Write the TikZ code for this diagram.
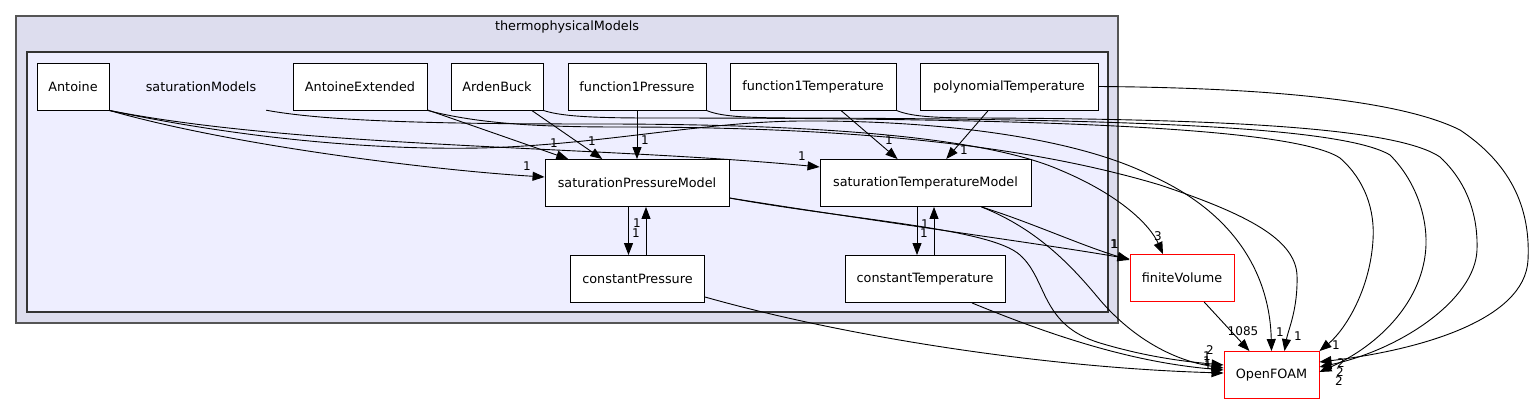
\documentclass[tikz,border=0pt]{standalone}
\usepackage{fontspec}
\setmainfont{DejaVu Sans}
\usetikzlibrary{arrows.meta}
\definecolor{outerdir}{HTML}{DDDDEE}
\definecolor{innerdir}{HTML}{EEEEFF}
\definecolor{dirline}{HTML}{555555}

\begin{document}
\begin{tikzpicture}[x=1pt,y=-1pt,>={Triangle[length=12pt,width=9pt]},
	dir node/.style={rectangle,draw,fill=white,line width=0.9pt,minimum height=47pt,
		inner sep=0pt,font=\fontsize{12.8}{15}\selectfont},
	ext node/.style={dir node,draw=red},
	dep/.style={->,line width=0.9pt},
	num/.style={inner sep=0pt,font=\fontsize{12}{14}\selectfont}]
	
	\useasboundingbox (0,0) rectangle (1534,404);
	
	% clusters
	\filldraw[fill=outerdir,draw=dirline,line width=1.6pt] (16,16) rectangle (1118,323);
	\filldraw[fill=innerdir,draw=black!80,line width=1.1pt] (27,52) rectangle (1108,312);
	\node[font=\fontsize{12.8}{15}\selectfont] (thermo) at (567,27) {thermophysicalModels};
	
	\node[dir node,minimum width=72pt] (antoine) at (73,86.5) {Antoine};
	\node[font=\fontsize{12.8}{15}\selectfont,minimum width=130pt,minimum height=47pt,inner sep=0pt]
		(satmodels) at (201,86.5) {saturationModels};
	\node[dir node,minimum width=134pt] (antext) at (360,86.5) {AntoineExtended};
	\node[dir node,minimum width=92pt] (arden) at (497,86.5) {ArdenBuck};
	\node[dir node,minimum width=138pt] (f1p) at (637,86.5) {function1Pressure};
	\node[dir node,minimum width=166pt] (f1t) at (813,86.5) {function1Temperature};
	\node[dir node,minimum width=178pt] (polyt) at (1009,86.5) {polynomialTemperature};
	\node[dir node,minimum width=184pt] (satp) at (637,183) {saturationPressureModel};
	\node[dir node,minimum width=211pt] (satt) at (925.5,183) {saturationTemperatureModel};
	\node[dir node,minimum width=134pt] (cp) at (637.5,279) {constantPressure};
	\node[dir node,minimum width=160pt] (ct) at (925,279) {constantTemperature};
	\node[ext node,minimum width=104pt] (fv) at (1182,278) {finiteVolume};
	\node[ext node,minimum width=95pt] (of) at (1271.5,375) {OpenFOAM};
	
	\path[dep]
	(antext) edge (satp)
	(arden) edge (satp)
	(f1p) edge (satp)
	(f1t) edge (satt)
	(polyt) edge (satt)
	(fv) edge (of);
	
	\draw[dep] ([xshift=-8.5pt]satp.south) -- ([xshift=-9pt]cp.north);
	\draw[dep] ([xshift=8.5pt]cp.north) -- ([xshift=9pt]satp.south);
	\draw[dep] ([xshift=-8.5pt]satt.south) -- ([xshift=-8pt]ct.north);
	\draw[dep] ([xshift=9pt]ct.north) -- ([xshift=8.5pt]satt.south);
	
	% Antoine
	\draw[dep] (antoine.south east) .. controls (230,145) and (430,170) .. ([yshift=6pt]satp.west);
	\draw[dep] (antoine.south east) .. controls (300,148) and (600,146) .. ([yshift=16pt]satt.west);
	\draw[dep] (antoine.south east) .. controls (250,140) and (380,150) .. (480,148)
		.. controls (600,145) and (700,122) .. (800,121)
		.. controls (950,120) and (1080,140) .. (1150,175)
		.. controls (1240,215) and (1270,280) .. (of.north);
	\draw[dep] (satmodels.south east) .. controls (330,122) and (450,124) .. (600,124)
		.. controls (800,124) and (980,135) .. (1060,170)
		.. controls (1120,195) and (1150,225) .. ([xshift=-19pt]fv.north);
	\draw[dep] (antext.south east) .. controls (480,124) and (540,127) .. (620,127)
		.. controls (820,127) and (1010,140) .. (1160,185)
		.. controls (1250,215) and (1295,240) .. (1297,275)
		.. controls (1298,310) and (1288,330) .. ([xshift=13pt]of.north);
	\draw[dep] (arden.south east) .. controls (560,116) and (590,118) .. (650,118)
		.. controls (1000,118) and (1290,125) .. (1340,158)
		.. controls (1365,180) and (1375,210) .. (1373,240)
		.. controls (1370,290) and (1345,330) .. (of.north east);
	\draw[dep] (f1p.south east) .. controls (720,116) and (740,118) .. (800,118)
		.. controls (1100,119) and (1340,125) .. (1390,155)
		.. controls (1415,180) and (1427,215) .. (1426,245)
		.. controls (1424,300) and (1380,345) .. ([yshift=3pt]of.east);
	\draw[dep] (f1t.south east) .. controls (910,116) and (930,118) .. (980,118)
		.. controls (1250,119) and (1400,130) .. (1440,157)
		.. controls (1470,185) and (1478,220) .. (1477,250)
		.. controls (1475,300) and (1400,350) .. ([yshift=8pt]of.east);
	\draw[dep] (polyt.east) .. controls (1300,88) and (1410,105) .. (1460,130)
		.. controls (1520,170) and (1530,220) .. (1528,260)
		.. controls (1525,320) and (1420,350) .. ([yshift=13pt]of.east);
	
	% to finiteVolume and OpenFOAM
	\draw[dep] ([yshift=-15pt]satp.east) .. controls (900,225) and (1050,245) .. ([yshift=19pt]fv.west);
	\draw[dep] ([xshift=56pt]satt.south) .. controls (1030,222) and (1080,245) .. ([yshift=18pt]fv.west);
	\draw[dep] ([yshift=-15pt]satp.east) .. controls (850,220) and (990,228) .. (1020,255)
		.. controls (1048,280) and (1040,325) .. (1100,343)
		.. controls (1150,358) and (1190,362) .. ([yshift=10pt]of.west);
	\draw[dep] ([xshift=56pt]satt.south) .. controls (1040,230) and (1075,270) .. (1100,300)
		.. controls (1130,335) and (1170,360) .. ([yshift=7pt]of.west);
	\draw[dep] ([xshift=47pt]ct.south) .. controls (1050,335) and (1130,362) .. ([yshift=5pt]of.west);
	\draw[dep] ([yshift=-18pt]cp.east) .. controls (850,338) and (1050,368) .. ([yshift=2pt]of.west);
	
	% edge labels
	\node[num] (l1) at (527,166) {1};
	\node[num] (l2) at (802,156) {1};
	\node[num] (l3) at (1280,332) {1};
	\node[num] (l4) at (1158,236) {3};
	\node[num] (l5) at (554,143) {1};
	\node[num] (l6) at (1298,336) {1};
	\node[num] (l7) at (592,141) {1};
	\node[num] (l8) at (1336,345) {1};
	\node[num] (l9) at (645,140) {1};
	\node[num] (l10) at (1339,381) {2};
	\node[num] (l11) at (889,140) {1};
	\node[num] (l12) at (1340,372) {2};
	\node[num] (l13) at (964,150) {1};
	\node[num] (l14) at (1341,363) {2};
	\node[num] (l15) at (637,223) {1};
	\node[num] (l16) at (636,233) {1};
	\node[num] (l17) at (925,224) {1};
	\node[num] (l18) at (924,233) {1};
	\node[num] (l19) at (1114,244) {1};
	\node[num] (l20) at (1115,244) {1};
	\node[num] (l21) at (1210,350) {2};
	\node[num] (l22) at (1207,356) {1};
	\node[num] (l23) at (1207,361) {1};
	\node[num] (l24) at (1208,365) {1};
	\node[num] (l25) at (1243,331) {1085};
\end{tikzpicture}
\end{document}
